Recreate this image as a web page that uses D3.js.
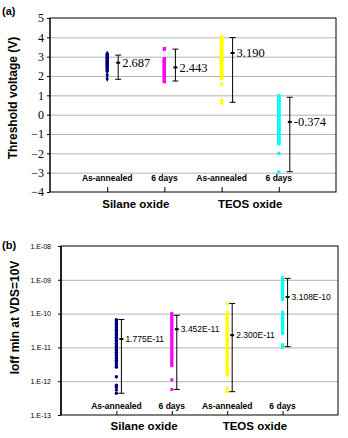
<!DOCTYPE html>
<html>
<head>
<meta charset="utf-8">
<script src="https://cdn.jsdelivr.net/npm/d3@7"></script>
<style>
  body { margin: 0; background: #fff; }
  svg text { font-family: "Liberation Sans", Arial, sans-serif; }
</style>
</head>
<body>
<div class="chart"></div>
<script>
// categories and group labels
const catLabels = ["As-annealed", "6 days", "As-annealed", "6 days"];
const groupLabels = ["Silane oxide", "TEOS oxide"];
const colors = ["#000080", "#ff00ff", "#ffff00", "#00ffff"];

// (a) threshold voltage, individual devices (V)
const vthSilaneAnneal = [3.16, 3.13, 3.1, 3.08, 3.05, 3.03, 3.0, 2.97, 2.95, 2.92, 2.9, 2.87, 2.84, 2.82, 2.8, 2.77, 2.74, 2.72, 2.7, 2.67, 2.65, 2.62, 2.6, 2.57, 2.55, 2.52, 2.49, 2.47, 2.44, 2.41, 2.38, 2.35, 2.31, 2.27, 2.24, 2.05, 1.86];
const vthSilane6d = [3.42, 3.38, 2.9, 2.87, 2.83, 2.8, 2.76, 2.73, 2.69, 2.66, 2.62, 2.58, 2.55, 2.51, 2.48, 2.44, 2.41, 2.37, 2.34, 2.3, 2.27, 2.23, 2.2, 2.16, 2.13, 2.09, 2.06, 2.02, 1.98, 1.89, 1.85, 1.81, 1.77, 1.73, 1.7];
const vthTeosAnneal = [4.05, 4.0, 3.95, 3.9, 3.85, 3.8, 3.75, 3.7, 3.65, 3.6, 3.55, 3.5, 3.45, 3.4, 3.35, 3.3, 3.25, 3.2, 3.15, 3.1, 3.05, 3.0, 2.95, 2.9, 2.85, 2.8, 2.74, 2.68, 2.62, 2.56, 2.5, 2.44, 2.38, 2.3, 2.22, 2.14, 2.06, 1.95, 1.88, 1.58, 0.76, 0.6];
const vthTeos6d = [0.98, 0.93, 0.88, 0.83, 0.78, 0.73, 0.68, 0.63, 0.58, 0.53, 0.48, 0.43, 0.38, 0.33, 0.28, 0.23, 0.18, 0.13, 0.08, 0.03, -0.02, -0.07, -0.12, -0.17, -0.22, -0.27, -0.32, -0.37, -0.42, -0.47, -0.52, -0.57, -0.62, -0.67, -0.72, -0.77, -0.82, -0.87, -0.92, -0.97, -1.02, -1.07, -1.12, -1.17, -1.22, -1.27, -1.32, -1.37, -1.42, -1.47, -1.52, -2.0, -2.97];

const vthMeans = [2.687, 2.443, 3.190, -0.374];
const vthLows = [1.83, 1.74, 0.64, -2.95];
const vthHighs = [3.08, 3.39, 3.99, 0.9];
const vthText = ["2.687", "2.443", "3.190", "-0.374"];
const vthTicks = [5, 4, 3, 2, 1, 0, -1, -2, -3, -4];

// (b) Ioff min at VDS=10V (A)
const ioffSilaneAnneal = [6.6e-11, 6.1e-11, 5.6e-11, 5.1e-11, 4.7e-11, 4.3e-11, 3.9e-11, 3.5e-11, 3.2e-11, 2.9e-11, 2.65e-11, 2.4e-11, 2.2e-11, 2.0e-11, 1.8e-11, 1.62e-11, 1.46e-11, 1.32e-11, 1.2e-11, 1.08e-11, 9.8e-12, 8.8e-12, 8.0e-12, 7.2e-12, 6.5e-12, 5.8e-12, 5.2e-12, 4.7e-12, 4.2e-12, 3.7e-12, 3.3e-12, 2.9e-12, 2.6e-12, 1.35e-12, 7.6e-13, 6.6e-13, 5.5e-13, 4.4e-13];
const ioffSilane6d = [1.0e-10, 9.0e-11, 8.0e-11, 7.1e-11, 6.3e-11, 5.6e-11, 5.0e-11, 4.4e-11, 3.9e-11, 3.5e-11, 3.1e-11, 2.75e-11, 2.45e-11, 2.2e-11, 1.95e-11, 1.72e-11, 1.53e-11, 1.36e-11, 1.2e-11, 1.07e-11, 9.5e-12, 8.4e-12, 7.5e-12, 6.6e-12, 5.9e-12, 5.2e-12, 4.6e-12, 4.1e-12, 3.6e-12, 3.2e-12, 2.9e-12, 1.1e-12, 5.7e-13];
const ioffTeosAnneal = [2.0e-10, 1.1e-10, 9.8e-11, 8.6e-11, 7.6e-11, 6.7e-11, 5.9e-11, 5.2e-11, 4.6e-11, 4.0e-11, 3.5e-11, 3.1e-11, 2.7e-11, 2.4e-11, 2.1e-11, 1.85e-11, 1.62e-11, 1.42e-11, 1.25e-11, 1.1e-11, 9.6e-12, 8.4e-12, 7.4e-12, 6.5e-12, 5.7e-12, 5.0e-12, 4.4e-12, 3.8e-12, 3.3e-12, 2.9e-12, 2.5e-12, 2.2e-12, 1.9e-12, 1.65e-12, 1.5e-12, 6.2e-13, 4.8e-13];
const ioffTeos6d = [1.15e-9, 1.05e-9, 9.5e-10, 8.6e-10, 7.8e-10, 7.0e-10, 6.3e-10, 5.7e-10, 5.1e-10, 4.6e-10, 4.1e-10, 3.7e-10, 3.3e-10, 2.9e-10, 2.6e-10, 1.1e-10, 9.6e-11, 8.4e-11, 7.4e-11, 6.5e-11, 5.7e-11, 5.0e-11, 4.4e-11, 3.8e-11, 3.3e-11, 2.9e-11, 2.6e-11, 1.2e-11, 1.1e-11, 1.0e-11];

const ioffMeans = [1.775e-11, 3.452e-11, 2.300e-11, 3.108e-10];
const ioffLows = [4.4e-13, 5.7e-13, 4.9e-13, 1.05e-11];
const ioffHighs = [6.7e-11, 8.9e-11, 2.0e-10, 1.1e-9];
const ioffText = ["1.775E-11", "3.452E-11", "2.300E-11", "3.108E-10"];
const ioffTicks = [1e-8, 1e-9, 1e-10, 1e-11, 1e-12, 1e-13];

const svg = d3.select(".chart").append("svg")
    .attr("width", 348)
    .attr("height", 438);

function drawPanel(opt) {
    const { x, y, left, right, top, bottom } = opt;
    const g = svg.append("g");

    // gridlines
    g.append("g")
        .attr("transform", `translate(${left},0)`)
        .call(d3.axisLeft(y).tickValues(opt.gridValues).tickSize(-(right - left)).tickFormat(""))
        .call(s => s.select(".domain").remove())
        .call(s => s.selectAll("line").attr("stroke", "#b4b4b4"));

    // left axis with labels
    const ya = g.append("g")
        .attr("transform", `translate(${left},0)`)
        .call(d3.axisLeft(y).tickValues(opt.tickValues).tickSize(3).tickPadding(opt.tickPad).tickFormat(opt.tickFormat));
    ya.select(".domain").remove();
    ya.selectAll("text")
        .style("font-family", opt.tickFont)
        .style("font-size", opt.tickSize + "px")
        .attr("fill", "#000");

    // category ticks on bottom
    g.append("g")
        .attr("transform", `translate(0,${bottom})`)
        .call(d3.axisBottom(x).tickSize(opt.catTick).tickFormat(""))
        .call(s => s.select(".domain").remove());

    // frame
    g.append("rect")
        .attr("x", left).attr("y", top)
        .attr("width", right - left).attr("height", bottom - top)
        .attr("fill", "none").attr("stroke", "#000").attr("stroke-width", 1);
    g.append("line")
        .attr("x1", left).attr("x2", left).attr("y1", top).attr("y2", bottom)
        .attr("stroke", "#000").attr("stroke-width", opt.leftWidth);

    // scatter columns
    opt.series.forEach((vals, i) => {
        g.append("g").selectAll("path")
            .data(vals)
            .join("path")
            .attr("transform", d => `translate(${x(i)},${y(d)})`)
            .attr("d", d3.symbol().type(opt.symbols[i]).size(opt.symSize))
            .attr("fill", colors[i]);
    });

    // error bars + mean labels
    opt.means.forEach((m, i) => {
        const bx = x(i) + opt.barOff;
        const eb = g.append("g").attr("stroke", "#000").attr("stroke-width", 1);
        eb.append("line").attr("x1", bx).attr("x2", bx).attr("y1", y(opt.lows[i])).attr("y2", y(opt.highs[i]));
        eb.append("line").attr("x1", bx - 3).attr("x2", bx + 3).attr("y1", y(opt.lows[i])).attr("y2", y(opt.lows[i]));
        eb.append("line").attr("x1", bx - 3).attr("x2", bx + 3).attr("y1", y(opt.highs[i])).attr("y2", y(opt.highs[i]));
        g.append("rect")
            .attr("x", bx - 2).attr("y", y(m) - 1)
            .attr("width", 4).attr("height", 2)
            .attr("fill", "#000");
        g.append("text")
            .attr("x", bx + 4).attr("y", y(m))
            .attr("dy", "0.35em")
            .style("font-family", opt.valFont)
            .style("font-size", opt.valSize + "px")
            .text(opt.texts[i]);
    });

    // category labels
    g.append("g").selectAll("text")
        .data(catLabels)
        .join("text")
        .attr("x", (d, i) => x(i))
        .attr("y", opt.catY)
        .attr("text-anchor", "middle")
        .attr("dy", "0.35em")
        .style("font-size", "8.5px")
        .style("font-weight", "bold")
        .text(d => d);

    // group labels
    g.append("g").selectAll("text")
        .data(groupLabels)
        .join("text")
        .attr("x", (d, i) => (x(i * 2) + x(i * 2 + 1)) / 2)
        .attr("y", opt.groupY)
        .attr("text-anchor", "middle")
        .attr("dy", "0.35em")
        .style("font-size", "11.5px")
        .style("font-weight", "bold")
        .text(d => d);

    // y title
    g.append("text")
        .attr("transform", `translate(${opt.titleX},${(top + bottom) / 2 + opt.titleShift}) rotate(-90)`)
        .attr("text-anchor", "middle")
        .attr("dy", "0.35em")
        .style("font-size", "12px")
        .style("font-weight", "bold")
        .text(opt.title);

    // panel tag
    g.append("text")
        .attr("x", opt.tagX).attr("y", opt.tagY)
        .attr("dy", "0.35em")
        .style("font-size", "11px")
        .style("font-weight", "bold")
        .text(opt.tag);
}

const idx = [0, 1, 2, 3];

// ===== (a) =====
const xA = d3.scalePoint().domain(idx).range([50, 336]).padding(1);
const yA = d3.scaleLinear().domain([-4, 5]).range([192, 18]);

drawPanel({
    x: xA, y: yA, left: 50, right: 336, top: 18, bottom: 192,
    gridValues: [4, 3, 2, 1, 0, -1, -2, -3],
    tickValues: vthTicks, tickFormat: d3.format("d"), tickPad: 3,
    tickFont: "'Liberation Serif', 'Times New Roman', serif", tickSize: 12,
    catTick: -5, leftWidth: 1,
    series: [vthSilaneAnneal, vthSilane6d, vthTeosAnneal, vthTeos6d],
    symbols: [d3.symbolDiamond, d3.symbolSquare, d3.symbolTriangle, d3.symbolSquare], symSize: 10,
    means: vthMeans, lows: vthLows, highs: vthHighs, texts: vthText,
    barOff: 11, valFont: "'Liberation Serif', 'Times New Roman', serif", valSize: 12.5,
    catY: 178, groupY: 204,
    title: "Threshold voltage (V)", titleX: 13, titleShift: -7,
    tag: "(a)", tagX: 2, tagY: 11
});

// ===== (b) =====
const xB = d3.scalePoint().domain(idx).range([61, 338]).padding(1);
const yB = d3.scaleLog().domain([1e-13, 1e-8]).range([415, 246]);

drawPanel({
    x: xB, y: yB, left: 61, right: 338, top: 246, bottom: 415,
    gridValues: [1e-9, 1e-10, 1e-11, 1e-12],
    tickValues: ioffTicks,
    tickFormat: d => "1.E-" + String(-Math.round(Math.log10(d))).padStart(2, "0"),
    tickPad: 7,
    tickFont: "'Liberation Sans', Arial, sans-serif", tickSize: 7,
    catTick: -4, leftWidth: 1.5,
    series: [ioffSilaneAnneal, ioffSilane6d, ioffTeosAnneal, ioffTeos6d],
    symbols: [d3.symbolCircle, d3.symbolSquare, d3.symbolTriangle, d3.symbolSquare], symSize: 9,
    means: ioffMeans, lows: ioffLows, highs: ioffHighs, texts: ioffText,
    barOff: 5, valFont: "'Liberation Sans', Arial, sans-serif", valSize: 8.5,
    catY: 406, groupY: 426,
    title: "Ioff min at VDS=10V", titleX: 15, titleShift: -13,
    tag: "(b)", tagX: 2, tagY: 245
});
</script>
</body>
</html>
